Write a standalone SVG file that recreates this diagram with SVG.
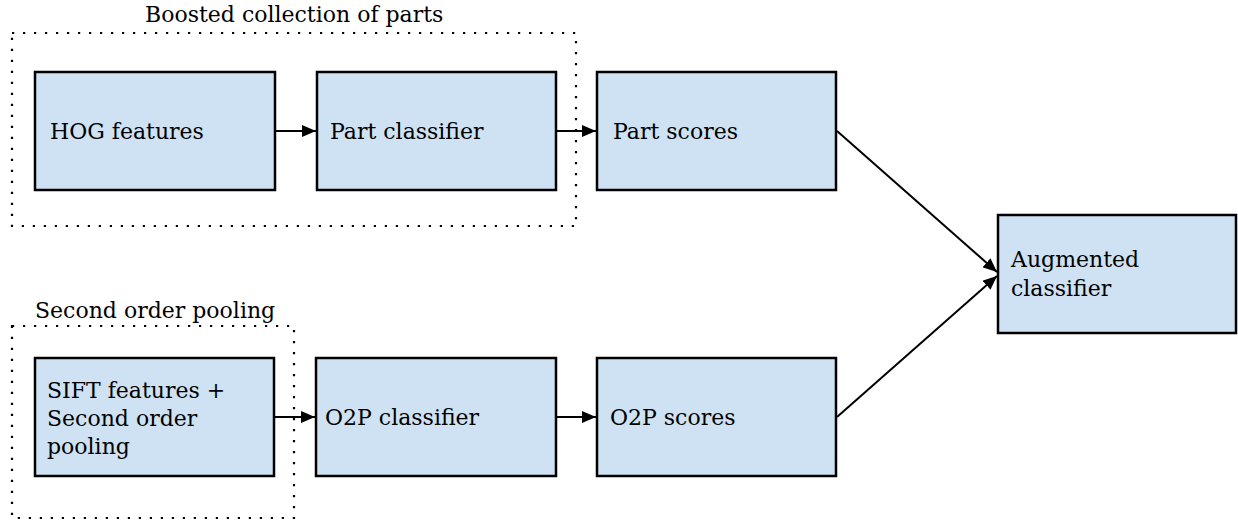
<svg xmlns="http://www.w3.org/2000/svg" width="1238" height="525" viewBox="0 0 1238 525">
  <style>
    .box { fill: #cfe2f3; stroke: #000; stroke-width: 2.5; }
    .group { fill: none; stroke: #000; stroke-width: 2.2; stroke-dasharray: 2.2 8.8; }
    .label { font-family: "DejaVu Serif", "Liberation Serif", serif; font-size: 22px; fill: #000; }
    .edge { fill: none; stroke: #000; stroke-width: 2; }
  </style>
  <defs>
    <marker id="arrow" viewBox="0 0 14 12" refX="14" refY="6" markerWidth="14" markerHeight="12" markerUnits="userSpaceOnUse" orient="auto">
      <path d="M0,0 L14,6 L0,12 Z" fill="#000"/>
    </marker>
  </defs>
  <rect width="1238" height="525" fill="#fff"/>

  <!-- dotted groupings -->
  <g id="group-boosted">
    <rect class="group" x="12" y="33" width="564" height="193"/>
    <text class="label" x="145" y="22">Boosted collection of parts</text>
  </g>
  <g id="group-o2p">
    <rect class="group" x="12" y="326" width="282" height="192"/>
    <text class="label" x="35" y="318">Second order pooling</text>
  </g>

  <!-- pipeline nodes -->
  <g id="node-hog">
    <rect class="box" x="35" y="72" width="240" height="118"/>
    <text class="label" x="50" y="139">HOG features</text>
  </g>
  <g id="node-part-classifier">
    <rect class="box" x="317" y="72" width="239" height="118"/>
    <text class="label" x="330" y="139">Part classifier</text>
  </g>
  <g id="node-part-scores">
    <rect class="box" x="597" y="72" width="239" height="118"/>
    <text class="label" x="613" y="139">Part scores</text>
  </g>
  <g id="node-sift">
    <rect class="box" x="35" y="358" width="239" height="118"/>
    <text class="label" x="47" y="398">SIFT features +</text>
    <text class="label" x="47" y="426">Second order</text>
    <text class="label" x="47" y="454">pooling</text>
  </g>
  <g id="node-o2p-classifier">
    <rect class="box" x="316" y="358" width="240" height="118"/>
    <text class="label" x="325" y="425">O2P classifier</text>
  </g>
  <g id="node-o2p-scores">
    <rect class="box" x="597" y="358" width="239" height="118"/>
    <text class="label" x="610" y="425">O2P scores</text>
  </g>
  <g id="node-augmented">
    <rect class="box" x="998" y="215" width="238" height="118"/>
    <text class="label" x="1011" y="267">Augmented</text>
    <text class="label" x="1011" y="296">classifier</text>
  </g>

  <!-- connectors -->
  <g id="connectors">
    <line class="edge" x1="276" y1="131" x2="316" y2="131" marker-end="url(#arrow)"/>
    <line class="edge" x1="557" y1="131" x2="596" y2="131" marker-end="url(#arrow)"/>
    <line class="edge" x1="275" y1="417" x2="315" y2="417" marker-end="url(#arrow)"/>
    <line class="edge" x1="557" y1="417" x2="596" y2="417" marker-end="url(#arrow)"/>
    <line class="edge" x1="837" y1="131" x2="997" y2="272" marker-end="url(#arrow)"/>
    <line class="edge" x1="837" y1="417" x2="997" y2="276" marker-end="url(#arrow)"/>
  </g>
</svg>
